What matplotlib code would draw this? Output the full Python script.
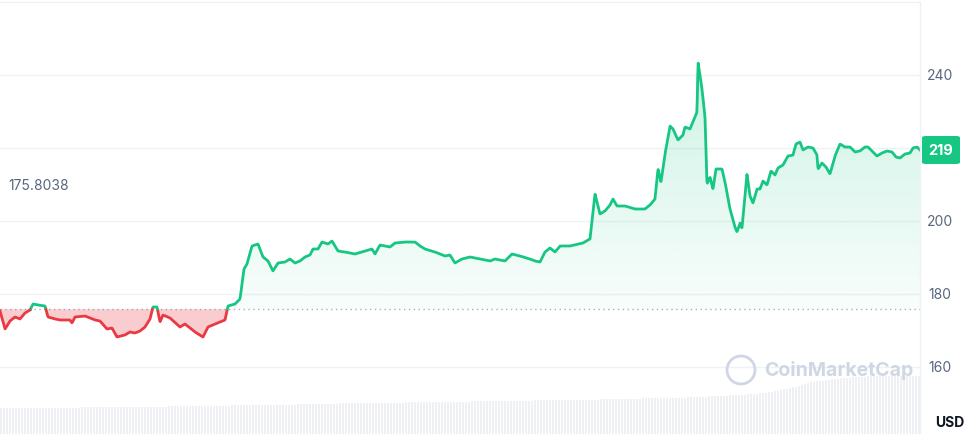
import numpy as np
import matplotlib
matplotlib.use("Agg")
import matplotlib.pyplot as plt
from matplotlib.patches import Polygon, FancyBboxPatch

# pixel-traced data converted to price
px = [0,5,10,15,20,25,30,33,38,45,48,55,60,70,72,75,85,95,100,107,112,117,125,130,135,140,145,150,153,157,160,163,170,180,185,195,203,208,215,225,228,235,240,244,247,252,258,263,268,273,278,285,290,295,300,305,310,313,318,322,328,332,338,345,355,365,372,375,380,390,395,405,415,420,425,435,445,450,455,462,470,480,490,495,505,512,520,530,535,540,545,550,555,560,570,583,590,595,600,605,610,613,617,625,635,645,650,655,658,661,665,670,673,678,683,685,690,695,697,698,702,705,707,710,713,716,722,725,730,735,737,740,742,747,750,753,757,760,763,767,771,775,778,783,788,793,796,800,803,808,813,817,818,822,826,830,835,840,845,850,855,860,865,868,873,877,882,887,892,896,900,905,910,913,917,920]
py = [312,330,322,318,320,314,311,305,306,307,318,320,321,321,324,318,317,321,322,330,329,338,336,333,334,332,328,320,308,308,323,316,319,328,325,333,338,328,325,321,307,305,300,270,265,247,245,258,262,272,264,263,260,264,262,258,256,250,250,243,245,242,252,253,255,252,250,255,246,248,244,243,243,247,250,253,257,256,264,260,258,260,262,260,262,255,257,260,262,263,253,249,253,247,247,244,240,195,215,212,206,200,207,207,210,210,206,200,170,183,155,127,130,141,136,128,130,118,113,63,90,118,185,178,190,170,170,183,210,228,233,224,229,175,197,204,190,190,182,186,172,176,169,166,157,156,145,143,151,148,149,156,170,164,168,175,157,145,148,148,153,152,148,148,153,157,154,152,153,158,159,155,154,149,148,151]
time_index = np.array(px, float)
price = np.array([240 - (y - 76) / 73 * 20 for y in py])
baseline = 175.8038
volume = [25,25,25,25,26,26,26,26,27,27,27,28,28,28,29,29,30,30,30,31,31,31,32,32,32,33,33,33,34,34,35,35,36,37,38,40,44,50,53,55,56,56,56]

fig = plt.figure(figsize=(9.68, 4.35), dpi=100)
ax = fig.add_axes([0, 0, 920/968, 1])
ylo = 240 - 359/73*20
yhi = 240 + 76/73*20
ax.set_xlim(0, 920)
ax.set_ylim(ylo, yhi)
for s in ax.spines.values():
    s.set_visible(False)
ax.set_xticks([]); ax.set_yticks([])

# volume
vax = fig.add_axes([0, 0, 920/968, 1])
vax.set_xlim(0, 920)
vax.set_ylim(0, 56 * 435 / 58)
vax.axis('off')
vx = np.linspace(0, 920, len(volume))
vint = np.interp(np.arange(0, 920, 3), vx, volume)
vax.bar(np.arange(0, 920, 3), vint, width=2.2, align='edge', color='#eef0f3', zorder=0)
vax.set_zorder(0); ax.set_zorder(1); ax.patch.set_alpha(0)

for g in [160, 180, 200, 220, 240]:
    ax.axhline(g, color='#eff2f5', lw=1, zorder=1)
ax.axhline(baseline, color='#a6b0c3', lw=1, ls=(0, (1, 2.5)), zorder=2)

xx = np.linspace(0, 920, 2000)
pp = np.interp(xx, time_index, price)
up = np.maximum(pp, baseline)
grad = np.zeros((256, 1, 4))
grad[:, 0, :3] = matplotlib.colors.to_rgb('#16c784')
grad[:, 0, 3] = np.linspace(0.03, 0.22, 256)
im = ax.imshow(grad, extent=[0, 920, baseline, 245], origin='lower', aspect='auto', zorder=2)
poly = Polygon(np.column_stack([np.r_[xx, xx[::-1]], np.r_[up, np.full_like(xx, baseline)]]),
               closed=True, facecolor='none', edgecolor='none')
ax.add_patch(poly)
im.set_clip_path(poly)
ax.set_xlim(0, 920); ax.set_ylim(ylo, yhi)
ax.fill_between(xx, pp, baseline, where=pp < baseline, color='#ea3943', alpha=0.25, lw=0, zorder=2)

above = np.ma.masked_where(pp < baseline, pp)
below = np.ma.masked_where(pp >= baseline, pp)
ax.plot(xx, above, color='#16c784', lw=2, zorder=3, solid_joinstyle='round')
ax.plot(xx, below, color='#ea3943', lw=2, zorder=3, solid_joinstyle='round')

fig.add_artist(plt.Line2D([0, 920/968], [1-3/435, 1-3/435], color='#eff2f5', lw=1))
fig.add_artist(plt.Line2D([920/968, 920/968], [0, 1-3/435], color='#eff2f5', lw=1))

ax.text(8, 240 - 110/73*20, '175.8038', fontsize=10, color='#58667e', va='center', family='Inter')

for v in [240, 200, 180, 160]:
    fig.text(940/968, (v - ylo) / (yhi - ylo), str(v), fontsize=10, color='#58667e',
             ha='center', va='center', family='Inter')
fig.text(950/968, 1 - 423/435, 'USD', fontsize=10, color='#0d1421', ha='center', va='center',
         family='Inter', fontweight='bold')
yb = (price[-1] - ylo) / (yhi - ylo)
fig.patches.append(FancyBboxPatch((922/968, yb - 14/435), 38/968, 28/435, boxstyle='round,pad=0,rounding_size=0.004',
                                  transform=fig.transFigure, facecolor='#16c784', edgecolor='none'))
fig.text(941/968, yb, '219', fontsize=10.5, color='white', fontweight='bold', ha='center', va='center', family='Inter')

fig.patches.append(matplotlib.patches.Ellipse((741/968, 1 - 371/435), 28/968, 28/435, transform=fig.transFigure,
                                              facecolor='none', edgecolor='#cfd6e4', lw=2))
fig.text(764/968, 1 - 371/435, 'CoinMarketCap', fontsize=14, color='#cfd6e4', va='center', family='Inter',
         fontweight='bold')

fig.savefig('out.png', dpi=100)
